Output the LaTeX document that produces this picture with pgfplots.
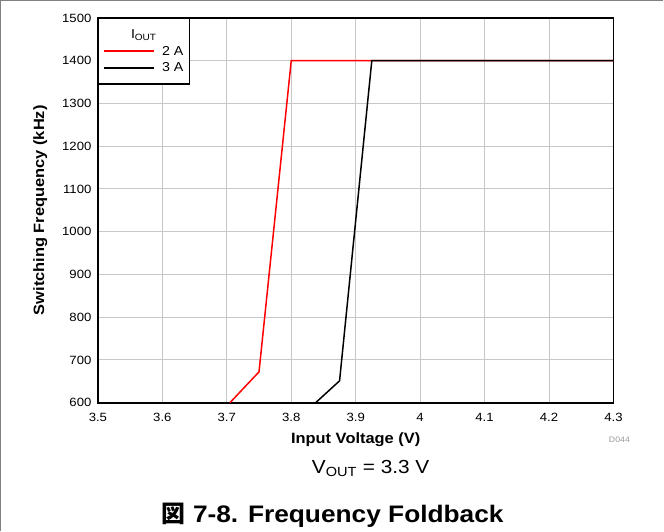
\documentclass[border=0pt]{standalone}
\usepackage{fontspec}
\setmainfont[FakeStretch=1.1]{Liberation Sans}
\newfontfamily\cjk{Noto Sans CJK JP}
\usepackage{pgfplots}
\pgfplotsset{compat=1.18}

\begin{document}
\begin{tikzpicture}[x=1bp,y=1bp]
  % page frame (cropped: only top and left edges show)
  \path (0,0) rectangle (664,531);
  \draw[black!50, line width=1.2bp] (0.6,0) -- (0.6,530.4) -- (664,530.4);

  \begin{axis}[
    at={(98bp,128bp)}, anchor=south west,
    scale only axis,
    width=516bp, height=385bp,
    xmin=3.5, xmax=4.3,
    ymin=600, ymax=1500,
    xtick={3.5,3.6,...,4.3},
    ytick={600,700,...,1500},
    xticklabels={3.5,3.6,3.7,3.8,3.9,4,4.1,4.2,4.3},
    /pgf/number format/assume math mode=true,
    /pgf/number format/1000 sep={},
    tick label style={font=\fontsize{12}{13}\selectfont},
    xticklabel style={yshift=-7bp},
    yticklabel style={xshift=-3bp},
    major tick length=0pt,
    grid=major,
    grid style={black!22, line width=1bp},
    axis line style={line width=1.8bp},
    xlabel={\bfseries Input Voltage (V)},
    ylabel={\bfseries Switching Frequency (kHz)},
    label style={font=\fontsize{15}{16}\selectfont},
    xlabel style={yshift=-4bp},
    ylabel style={yshift=8bp},
    legend style={
      at={(0,1)}, anchor=north west,
      draw=black, line width=1.3bp,
      font=\fontsize{13}{13}\selectfont,
      inner xsep=5bp, inner ysep=10bp,
      row sep=4bp,
      nodes={inner sep=1bp},
    },
    legend image code/.code={
      \draw[#1, line width=1.6bp] (0bp,0bp) -- (50bp,0bp);
    },
    legend cell align=right,
  ]
    \addlegendimage{empty legend}
    \addlegendentry{\llap{I\textsubscript{OUT}\hspace{27bp}}}

    \addplot[red, line width=1.5bp] coordinates {
      (3.705,600) (3.750,672) (3.800,1400) (4.300,1400)
    };
    \addlegendentry{\hspace{6bp}2 A}

    \addplot[black, line width=1.5bp] coordinates {
      (3.838,600) (3.875,651) (3.925,1400) (4.300,1400)
    };
    \addlegendentry{\hspace{6bp}3 A}
  \end{axis}

  \node[black!40, font=\fontsize{8}{9}\selectfont] at (620,91) {D044};
  \node[font=\fontsize{19}{21}\selectfont] at (371,62) {V\textsubscript{OUT} = 3.3 V};
  \node[font=\bfseries\fontsize{24}{26}\selectfont] at (333,15) {{\cjk 図} 7-8. Frequency Foldback};
\end{tikzpicture}
\end{document}
